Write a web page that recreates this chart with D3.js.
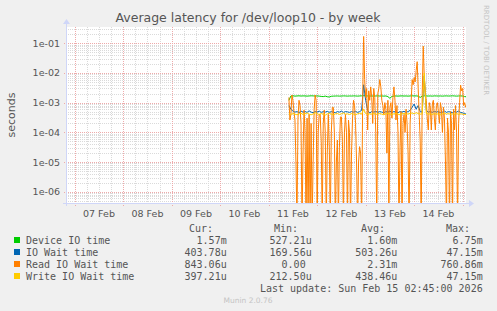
<!DOCTYPE html>
<html>
<head>
<meta charset="utf-8">
<script src="https://cdn.jsdelivr.net/npm/d3@7"></script>
<style>
  body { margin: 0; background: #f0f0f0; }
  svg { display: block; }
  text { fill: #555; font-family: "DejaVu Sans", sans-serif; }
  .mono { font-family: "DejaVu Sans Mono", monospace; font-size: 10px; white-space: pre; }
</style>
</head>
<body>
<svg id="chart" width="497" height="311"></svg>
<script>
// samples start at 11 Feb 10:00 UTC; read wait is kept at 30 min steps, the rest hourly
const firstSample = Date.UTC(2026, 1, 11, 10, 0);
const hourMs = 3600 * 1000;
const halfHourMs = 1800 * 1000;

const deviceIO = [
  1.2e-3, 1.68e-3, 1.7e-3, 1.66e-3, 1.68e-3, 1.7e-3, 1.67e-3, 1.69e-3, 1.68e-3, 1.66e-3,
  1.68e-3, 1.7e-3, 1.69e-3, 1.67e-3, 1.68e-3, 1.66e-3, 1.62e-3, 1.6e-3, 1.66e-3, 1.58e-3,
  1.55e-3, 1.64e-3, 1.66e-3, 1.67e-3, 1.68e-3, 1.66e-3, 1.67e-3, 1.69e-3, 1.68e-3, 1.66e-3,
  1.68e-3, 1.67e-3, 1.69e-3, 1.68e-3, 1.66e-3, 1.68e-3, 1.7e-3, 1.72e-3, 1.69e-3, 1.68e-3,
  1.67e-3, 1.68e-3, 1.66e-3, 1.68e-3, 1.69e-3, 1.67e-3, 1.68e-3, 1.66e-3, 1.68e-3, 1.6e-3,
  1.4e-3, 1.62e-3, 1.67e-3, 1.68e-3, 1.66e-3, 1.68e-3, 1.69e-3, 1.67e-3, 1.68e-3, 1.66e-3,
  1.68e-3, 1.7e-3, 1.68e-3, 1.69e-3, 1.66e-3, 1.5e-3, 1.66e-3, 1.7e-3, 1.68e-3, 1.67e-3,
  1.68e-3, 1.66e-3, 1.69e-3, 1.68e-3, 1.67e-3, 1.68e-3, 1.66e-3, 1.68e-3, 1.69e-3, 1.67e-3,
  1.68e-3, 1.7e-3, 1.68e-3, 1.66e-3, 1.68e-3, 1.69e-3, 1.67e-3, 1.6e-3, 1.57e-3
];
const ioWait = [
  8e-4, 6e-4, 5.2e-4, 4.8e-4, 5e-4, 4.6e-4, 5.2e-4, 4.8e-4, 5e-4, 4.7e-4,
  5.3e-4, 4.8e-4, 4.6e-4, 5e-4, 4.8e-4, 5.2e-4, 4.7e-4, 5e-4, 4.8e-4, 5.1e-4,
  4.7e-4, 5e-4, 4.8e-4, 4.6e-4, 5e-4, 4.8e-4, 5.2e-4, 4.7e-4, 5e-4, 4.9e-4,
  4.7e-4, 5e-4, 4.8e-4, 5.1e-4, 4.7e-4, 5e-4, 5.5e-4, 4e-3, 1.2e-3, 5.5e-4,
  4.5e-4, 5e-4, 4.8e-4, 5.1e-4, 4.7e-4, 5e-4, 4.8e-4, 4.6e-4, 5e-4, 4.8e-4,
  5.2e-4, 4.7e-4, 5e-4, 4.8e-4, 4.6e-4, 5e-4, 4.8e-4, 5.1e-4, 4.7e-4, 5e-4,
  5.5e-4, 7e-4, 9e-4, 6e-4, 8e-4, 5e-4, 4.8e-4, 8e-3, 5.5e-4, 4.8e-4,
  5e-4, 4.7e-4, 5.1e-4, 4.8e-4, 5e-4, 4.6e-4, 4.8e-4, 5.2e-4, 4.7e-4, 5e-4,
  4.8e-4, 4.6e-4, 5e-4, 4.8e-4, 5.2e-4, 4.7e-4, 4.5e-4, 4.3e-4, 4.04e-4
];
const readWait = [
  1.5e-3, 2.6e-4, 4e-4, 1.8e-3, 1.2e-3, 5e-4, 2.6e-4, 1e-5, 0, 3e-4,
  1.2e-3, 8e-4, 2e-4, 0, 2e-5, 5.6e-4, 1e-4, 0, 3e-4, 0,
  4e-4, 0, 2e-4, 0, 1e-5, 6e-4, 1.8e-3, 1.2e-3, 0, 1e-4,
  4e-4, 4e-4, 5e-5, 0, 2e-4, 5.6e-4, 1e-4, 0, 2e-5, 4e-4,
  3e-5, 0, 1e-4, 7e-4, 7e-4, 1e-4, 0, 1e-5, 5.5e-5, 0,
  3e-5, 3.3e-4, 3.3e-4, 5e-5, 0, 1e-4, 4e-4, 1e-4, 0, 2.6e-4,
  1e-4, 0, 2e-5, 3e-4, 1.2e-3, 8e-4, 2e-4, 1e-5, 0, 1e-5,
  3.3e-5, 2e-5, 0, 1e-3, 0.17, 6e-3, 1.5e-3, 3e-3, 1.2e-4, 2.5e-3,
  1.2e-3, 3.4e-3, 1.5e-3, 2e-4, 3e-3, 1.5e-3, 1e-4, 0, 2e-3, 3e-3,
  6e-3, 3.4e-3, 1.2e-3, 8e-4, 4e-4, 1e-3, 6e-4, 2e-5, 1.2e-3, 0,
  7e-4, 1e-3, 3e-4, 1.5e-3, 3.4e-3, 1.2e-3, 2.6e-4, 8e-4, 1e-4, 0,
  3e-5, 5e-4, 0, 2e-4, 4e-4, 1e-4, 6e-4, 2e-4, 2e-5, 0,
  2e-4, 1e-3, 6e-3, 4e-3, 7e-3, 5e-3, 0.012, 0.024, 3e-3, 4e-4,
  5e-5, 0, 2e-3, 0.08, 8e-3, 2e-3, 1.2e-3, 3e-4, 1.2e-4, 1e-3,
  7e-4, 1.2e-4, 9e-4, 1.2e-3, 3e-4, 1.2e-4, 8e-4, 1e-3, 5e-4, 2e-4,
  1e-3, 6e-4, 1e-4, 7e-4, 3e-4, 1e-5, 0, 3e-4, 1e-4, 0,
  5e-4, 2e-4, 0, 6e-4, 1.2e-4, 8e-4, 1e-4, 0, 2e-4, 1e-3,
  3.9e-3, 2.5e-3, 3e-3, 8e-4, 1e-3, 7e-4, 8.4e-4
];
const writeWait = [
  4.2e-4, 4e-4, 4.3e-4, 4.1e-4, 3.9e-4, 4.2e-4, 4.4e-4, 4e-4, 4.2e-4, 4.5e-4,
  4.1e-4, 3.9e-4, 4.2e-4, 4.6e-4, 4.2e-4, 4e-4, 4.3e-4, 4.1e-4, 3.8e-4, 4.2e-4,
  4.4e-4, 4.1e-4, 3.9e-4, 4.2e-4, 4.3e-4, 4e-4, 4.2e-4, 4.5e-4, 4.1e-4, 4.2e-4,
  4e-4, 4.3e-4, 4.1e-4, 3.9e-4, 4.2e-4, 4.4e-4, 4.1e-4, 6e-4, 4.3e-4, 4e-4,
  4.2e-4, 4.1e-4, 4.4e-4, 4e-4, 4.2e-4, 4.3e-4, 4.1e-4, 3.9e-4, 4.2e-4, 4.4e-4,
  4.1e-4, 4e-4, 4.2e-4, 4.3e-4, 4.1e-4, 3.9e-4, 4.2e-4, 4.4e-4, 4e-4, 4.2e-4,
  4.3e-4, 4.5e-4, 4.2e-4, 4.6e-4, 4.3e-4, 4.1e-4, 4.2e-4, 1e-2, 4.4e-4, 4.1e-4,
  4.2e-4, 4e-4, 4.3e-4, 4.1e-4, 4.2e-4, 3.9e-4, 4.2e-4, 4.4e-4, 4.1e-4, 4.3e-4,
  4e-4, 4.2e-4, 4.1e-4, 4.3e-4, 4e-4, 4.2e-4, 4.1e-4, 4e-4, 3.97e-4
];

const seriesNames = ["Device IO time", "IO Wait time", "Read IO Wait time", "Write IO Wait time"];
const seriesColors = ["#00cc00", "#0066b3", "#ff8000", "#ffcc00"];
const curVals = ["1.57m", "403.78u", "843.06u", "397.21u"];
const minVals = ["527.21u", "169.56u", "0.00 ", "212.50u"];
const avgVals = ["1.60m", "503.26u", "2.31m", "438.46u"];
const maxVals = ["6.75m", "47.15m", "760.86m", "47.15m"];
const dayLabels = ["07 Feb", "08 Feb", "09 Feb", "10 Feb", "11 Feb", "12 Feb", "13 Feb", "14 Feb"];
const yTickVals = [1e-1, 1e-2, 1e-3, 1e-4, 1e-5, 1e-6];
const yTickLabels = ["1e-01", "1e-02", "1e-03", "1e-04", "1e-05", "1e-06"];

const svg = d3.select('#chart');
const plotL = 66, plotR = 466, plotT = 27, plotB = 203;

const x = d3.scaleUtc()
    .domain([Date.UTC(2026, 1, 6, 19, 40), Date.UTC(2026, 1, 15, 1, 40)])
    .range([plotL, plotR]);
const y = d3.scaleLog()
    .domain([4.16e-7, 0.354])
    .range([plotB, plotT]);

svg.append('rect')
    .attr('x', plotL).attr('y', plotT)
    .attr('width', plotR - plotL).attr('height', plotB - plotT)
    .attr('fill', '#fff');

svg.append('clipPath').attr('id', 'plot')
    .append('rect')
    .attr('x', plotL).attr('y', plotT)
    .attr('width', plotR - plotL).attr('height', plotB - plotT);

// grid
const minorCol = '#dadada', majorCol = '#eeaaaa';
const grid = svg.append('g').attr('shape-rendering', 'crispEdges');
const minorY = y.ticks(60).filter(v => v >= y.domain()[0] && v <= y.domain()[1]);
grid.selectAll('.hmin').data(minorY).join('line')
    .attr('x1', plotL).attr('x2', plotR)
    .attr('y1', d => Math.round(y(d)) + 0.5).attr('y2', d => Math.round(y(d)) + 0.5)
    .attr('stroke', minorCol).attr('stroke-dasharray', '1,1');
grid.selectAll('.vmin').data(x.ticks(d3.utcHour.every(6))).join('line')
    .attr('x1', d => Math.round(x(d)) + 0.5).attr('x2', d => Math.round(x(d)) + 0.5)
    .attr('y1', plotT).attr('y2', plotB + 2)
    .attr('stroke', minorCol).attr('stroke-dasharray', '1,1');
grid.selectAll('.hmaj').data(yTickVals).join('line')
    .attr('x1', plotL - 2).attr('x2', plotR)
    .attr('y1', d => Math.round(y(d)) + 0.5).attr('y2', d => Math.round(y(d)) + 0.5)
    .attr('stroke', majorCol).attr('stroke-dasharray', '1,1');
grid.selectAll('.vmaj').data(x.ticks(d3.utcDay.every(1))).join('line')
    .attr('x1', d => Math.round(x(d)) + 0.5).attr('x2', d => Math.round(x(d)) + 0.5)
    .attr('y1', plotT).attr('y2', plotB + 3)
    .attr('stroke', majorCol).attr('stroke-dasharray', '1,1');

// lines
const series = [
    [deviceIO, hourMs], [ioWait, hourMs], [readWait, halfHourMs], [writeWait, hourMs]
];
const plot = svg.append('g').attr('clip-path', 'url(#plot)');
series.forEach(([vals, step], k) => {
    const line = d3.line()
        .x((d, i) => x(firstSample + i * step))
        .y(d => d > 0 ? y(d) : plotB + 20);
    plot.append('path')
        .datum(vals)
        .attr('fill', 'none')
        .attr('stroke', seriesColors[k])
        .attr('stroke-width', 1)
        .attr('d', line);
});

// axes
const axisCol = '#cfd6f8';
svg.append('line').attr('x1', plotL - 3).attr('x2', plotR + 3)
    .attr('y1', plotB + 0.5).attr('y2', plotB + 0.5).attr('stroke', axisCol);
svg.append('line').attr('x1', plotL + 0.5).attr('x2', plotL + 0.5)
    .attr('y1', plotB + 3).attr('y2', plotT - 3).attr('stroke', axisCol);
svg.append('path').attr('d', `M${plotR + 3},${plotB - 3} L${plotR + 8},${plotB + 0.5} L${plotR + 3},${plotB + 4} Z`).attr('fill', axisCol);
svg.append('path').attr('d', `M${plotL - 3},${plotT - 3} L${plotL + 0.5},${plotT - 8} L${plotL + 4},${plotT - 3} Z`).attr('fill', axisCol);

svg.selectAll('.ylab').data(yTickVals).join('text')
    .attr('x', 60).attr('y', d => y(d) + 3.5)
    .attr('text-anchor', 'end').attr('font-size', 9.5)
    .text((d, i) => yTickLabels[i]);

svg.selectAll('.xlab').data(dayLabels).join('text')
    .attr('x', (d, i) => x(Date.UTC(2026, 1, 7 + i, 12)))
    .attr('y', 216.5)
    .attr('text-anchor', 'middle').attr('font-size', 9.5)
    .text(d => d);

svg.append('text')
    .attr('x', 248).attr('y', 22)
    .attr('text-anchor', 'middle').attr('font-size', 12.5)
    .text('Average latency for /dev/loop10 - by week');

svg.append('text')
    .attr('transform', 'translate(15,115) rotate(-90)')
    .attr('text-anchor', 'middle').attr('font-size', 11)
    .text('seconds');

svg.append('text')
    .attr('transform', 'translate(484,5) rotate(90)')
    .attr('font-size', 7).style('fill', '#c4c4c4')
    .text('RRDTOOL / TOBI OETIKER');

// legend
const cols = [[curVals, 226.7], [minVals, 311.7], [avgVals, 397.3], [maxVals, 482.7]];
const heads = [['Cur:', 213], ['Min:', 298], ['Avg:', 385], ['Max:', 470]];
heads.forEach(([h, hx]) => {
    svg.append('text').attr('class', 'mono')
        .attr('x', hx).attr('y', 231.5).attr('text-anchor', 'end').text(h);
});
seriesNames.forEach((name, i) => {
    const by = 243.5 + i * 12;
    svg.append('rect')
        .attr('x', 14).attr('y', by - 6.5).attr('width', 6).attr('height', 6)
        .attr('fill', seriesColors[i]);
    svg.append('text').attr('class', 'mono')
        .attr('x', 26).attr('y', by).text(name);
    cols.forEach(([vals, cx]) => {
        svg.append('text').attr('class', 'mono')
            .attr('x', cx).attr('y', by).attr('text-anchor', 'end').text(vals[i]);
    });
});
svg.append('text').attr('class', 'mono')
    .attr('x', 482.7).attr('y', 291.5).attr('text-anchor', 'end')
    .text('Last update: Sun Feb 15 02:45:00 2026');
svg.append('text')
    .attr('x', 248).attr('y', 303).attr('text-anchor', 'middle')
    .attr('font-size', 7.5).style('fill', '#c4c4c4')
    .text('Munin 2.0.76');
</script>
</body>
</html>
